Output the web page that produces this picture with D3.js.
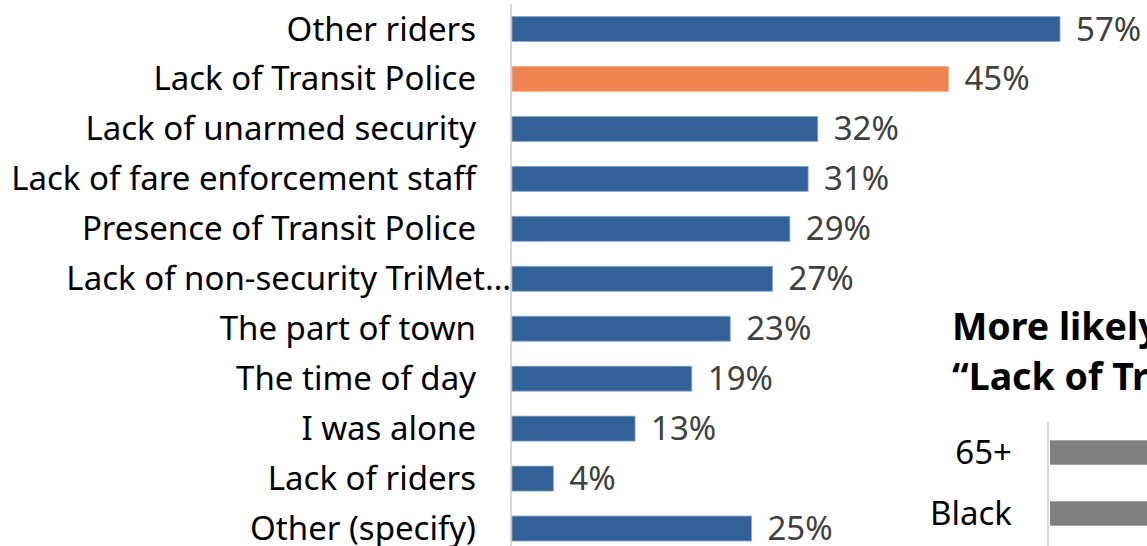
<!DOCTYPE html>
<html>
<head>
<meta charset="utf-8">
<script src="https://cdn.jsdelivr.net/npm/d3@7"></script>
<style>
  body { margin: 0; background: #fff; overflow: hidden; }
  text { font-family: "Noto Sans", sans-serif; }
</style>
</head>
<body>
<div id="chart"></div>
<script>
const categories = [
    "Other riders",
    "Lack of Transit Police",
    "Lack of unarmed security",
    "Lack of fare enforcement staff",
    "Presence of Transit Police",
    "Lack of non-security TriMet…",
    "The part of town",
    "The time of day",
    "I was alone",
    "Lack of riders",
    "Other (specify)"
];
const values = [57.0, 45.4, 31.8, 30.8, 28.9, 27.1, 22.7, 18.7, 12.8, 4.3, 24.9];
const highlight = "Lack of Transit Police";

// inset: groups more likely to pick "Lack of Transit Police" (cut off at the right edge)
const insetTitle = ["More likely to say", "“Lack of Transit Police”"];
const insetGroups = ["65+", "Black"];
const insetValues = [60, 58];

const W = 1147, H = 546;
const fontSize = 33;

const svg = d3.select('#chart')
    .append('svg')
    .attr('width', W)
    .attr('height', H);

// main chart
const x = d3.scaleLinear()
    .domain([0, 57])
    .range([512, 1060]);

const y = d3.scaleBand()
    .domain(categories)
    .range([4, 553.5])
    .paddingInner(0.5)
    .paddingOuter(0.25);

svg.append('line')
    .attr('x1', 511).attr('x2', 511)
    .attr('y1', 4).attr('y2', H)
    .attr('stroke', '#d9d9d9')
    .attr('stroke-width', 2);

svg.selectAll('rect.bar')
    .data(categories)
    .join('rect')
    .attr('class', 'bar')
    .attr('x', x(0))
    .attr('y', d => y(d))
    .attr('width', (d, i) => x(values[i]) - x(0))
    .attr('height', y.bandwidth())
    .attr('fill', d => d === highlight ? '#ef8451' : '#326198')
    .attr('stroke', d => d === highlight ? '#f6b395' : '#8ea7c6')
    .attr('stroke-width', 0.8);

svg.selectAll('text.cat')
    .data(categories)
    .join('text')
    .attr('class', 'cat')
    .attr('x', d => d.endsWith('…') ? 511 : 476)
    .attr('y', d => y(d) + y.bandwidth() / 2)
    .attr('dy', '0.35em')
    .attr('text-anchor', 'end')
    .attr('font-size', fontSize)
    .attr('fill', '#000')
    .text(d => d);

svg.selectAll('text.val')
    .data(categories)
    .join('text')
    .attr('class', 'val')
    .attr('x', (d, i) => x(values[i]) + 16)
    .attr('y', d => y(d) + y.bandwidth() / 2)
    .attr('dy', '0.35em')
    .attr('font-size', fontSize)
    .attr('fill', '#404040')
    .text((d, i) => Math.round(values[i]) + '%');

// inset chart
svg.selectAll('text.ititle')
    .data(insetTitle)
    .join('text')
    .attr('class', 'ititle')
    .attr('x', 952)
    .attr('y', (d, i) => 340 + i * 50)
    .attr('font-size', 37.5)
    .attr('font-weight', 'bold')
    .attr('fill', '#000')
    .text(d => d);

const ix = d3.scaleLinear()
    .domain([0, 57])
    .range([1050, 1598]);

const iy = d3.scaleBand()
    .domain(insetGroups)
    .range([422, 544])
    .paddingInner(0.6)
    .paddingOuter(0.3);

svg.append('line')
    .attr('x1', 1048).attr('x2', 1048)
    .attr('y1', 422).attr('y2', H)
    .attr('stroke', '#d9d9d9')
    .attr('stroke-width', 2);

svg.selectAll('rect.ibar')
    .data(insetGroups)
    .join('rect')
    .attr('class', 'ibar')
    .attr('x', ix(0))
    .attr('y', d => iy(d))
    .attr('width', (d, i) => ix(insetValues[i]) - ix(0))
    .attr('height', iy.bandwidth())
    .attr('fill', '#808080');

svg.selectAll('text.igroup')
    .data(insetGroups)
    .join('text')
    .attr('class', 'igroup')
    .attr('x', 1012)
    .attr('y', d => iy(d) + iy.bandwidth() / 2)
    .attr('dy', '0.35em')
    .attr('text-anchor', 'end')
    .attr('font-size', fontSize)
    .attr('fill', '#000')
    .text(d => d);
</script>
</body>
</html>
